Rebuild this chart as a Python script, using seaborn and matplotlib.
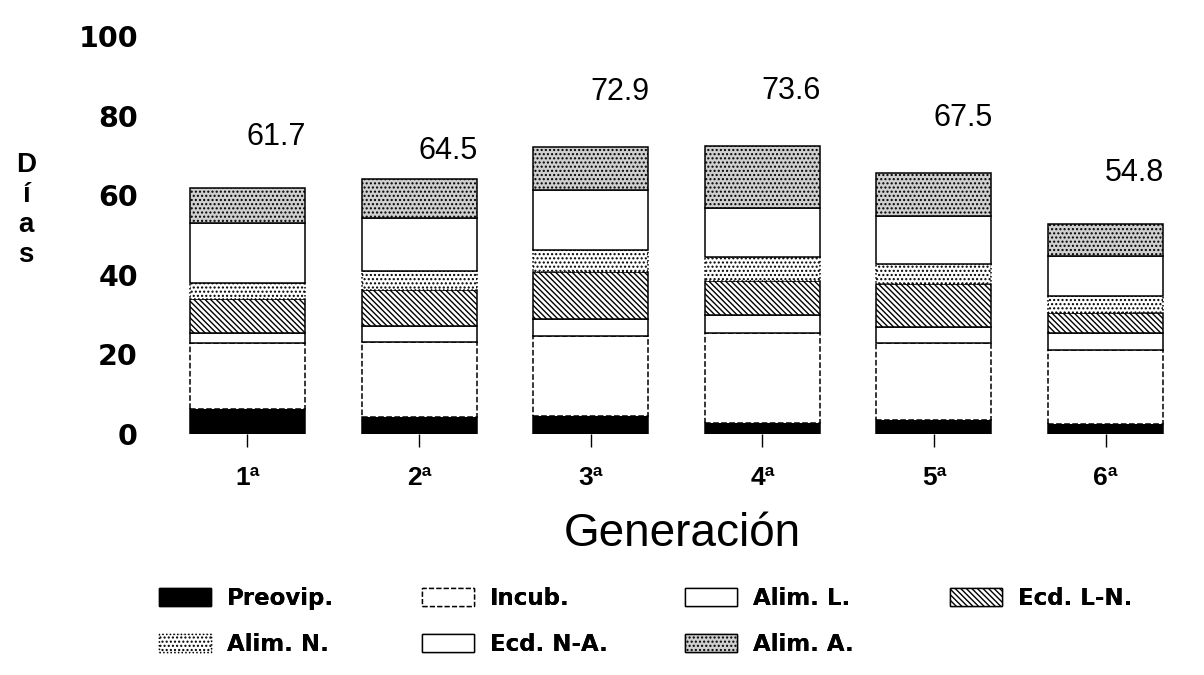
import numpy as np
import pandas as pd
import seaborn as sns
import matplotlib.pyplot as plt
from matplotlib.patches import Patch

# ---- data ----
generaciones = ["1ª", "2ª", "3ª", "4ª", "5ª", "6ª"]
fases = ["Preovip.", "Incub.", "Alim. L.", "Ecd. L-N.", "Alim. N.", "Ecd. N-A.", "Alim. A."]
preovip = [6.2, 4.2, 4.5, 2.8, 3.5, 2.5]
incub = [16.6, 19.0, 20.1, 22.5, 19.4, 18.6]
alim_l = [2.7, 4.0, 4.2, 4.6, 4.1, 4.2]
ecd_ln = [8.3, 9.0, 12.0, 8.5, 10.6, 5.0]
alim_n = [4.2, 4.8, 5.4, 6.1, 5.1, 4.4]
ecd_na = [14.9, 13.2, 15.1, 12.2, 12.1, 10.0]
alim_a = [8.8, 9.8, 10.9, 15.7, 10.9, 8.1]
totales = [61.7, 64.5, 72.9, 73.6, 67.5, 54.8]
y_ticks = [0, 20, 40, 60, 80, 100]

series = [preovip, incub, alim_l, ecd_ln, alim_n, ecd_na, alim_a]

# ---- styles (layout only) ----
styles = [
    dict(facecolor="black", hatch=None, linestyle="-"),
    dict(facecolor="white", hatch=None, linestyle="--"),
    dict(facecolor="white", hatch=None, linestyle="-"),
    dict(facecolor="white", hatch="\\\\\\\\\\\\", linestyle="-"),
    dict(facecolor="white", hatch="....", linestyle=":"),
    dict(facecolor="white", hatch=None, linestyle="-"),
    dict(facecolor="#cfcfcf", hatch="....", linestyle="-"),
]
label_offset_px = [(29, 51), (29, 28), (29, 55), (29, 55), (29, 55), (29, 51)]
# legend columns: (left x of patch in px, item indices)
legend_cols = [(159, [0, 4]), (422, [1, 5]), (685, [2, 6]), (950, [3])]

sns.set_style("white")
plt.rcParams["font.family"] = ["Liberation Sans", "DejaVu Sans"]
plt.rcParams["hatch.linewidth"] = 1.0
for k in ["text.color", "axes.labelcolor", "xtick.color", "ytick.color"]:
    plt.rcParams[k] = "black"

W, H = 1204, 675
y0_px, per_unit = 434, 3.98
ymax = 103
fig = plt.figure(figsize=(W / 100, H / 100), dpi=100)
ax = fig.add_axes([165 / W, (H - y0_px) / H, (1200 - 165) / W, ymax * per_unit / H])

df = pd.DataFrame({"gen": generaciones})
bottom = np.zeros(len(generaciones))
for name, vals, st in zip(fases, series, styles):
    df["v"] = vals
    sns.barplot(data=df, x="gen", y="v", order=generaciones, width=0.67,
                color=st["facecolor"], edgecolor="black", linewidth=1.1,
                hatch=st["hatch"], linestyle=st["linestyle"], bottom=bottom,
                saturation=1, ax=ax, errorbar=None)
    bottom = bottom + np.array(vals)

# totals labels
tops = np.sum(np.array(series), axis=0)
for i, (t, top) in enumerate(zip(totales, tops)):
    dx, dy = label_offset_px[i]
    ax.annotate(f"{t:.1f}", xy=(i, top), xytext=(dx, dy), textcoords="offset pixels",
                ha="center", va="center", fontsize=22)

ax.set_xlim(-0.48, 5.55)
ax.set_ylim(0, ymax)
ax.set_yticks(y_ticks)
ax.set_yticklabels([str(v) for v in y_ticks], fontsize=20.5, fontweight="bold",
                   family="DejaVu Sans")
ax.set_xticks(range(len(generaciones)))
ax.set_xticklabels(generaciones, fontsize=19, fontweight="bold")
ax.tick_params(axis="x", direction="out", length=9, width=1, color="black", pad=14, bottom=True)
ax.tick_params(axis="y", length=0, pad=19.5)
for s in ax.spines.values():
    s.set_visible(False)
ax.set_xlabel("Generación", fontsize=33, labelpad=16)
ax.set_ylabel("")

fig.text(26 / W, 1 - 210 / H, "D\ní\na\ns", ha="center", va="center",
         fontsize=20, fontweight="bold", linespacing=1.2)

# legend, built column by column
handles = [Patch(facecolor=st["facecolor"], edgecolor="black", hatch=st["hatch"],
                 linestyle=st["linestyle"], linewidth=1.0, label=n)
           for n, st in zip(fases, styles)]
for x0, idx in legend_cols:
    leg = fig.legend([handles[i] for i in idx], [fases[i] for i in idx],
                     loc="upper left", bbox_to_anchor=(x0 / W, 1 - 587 / H),
                     frameon=False, borderpad=0, borderaxespad=0,
                     prop={"family": "DejaVu Sans", "weight": "bold", "size": 16.5},
                     handlelength=2.27, handleheight=0.87,
                     handletextpad=0.7, labelspacing=1.0)
    fig.add_artist(leg)

fig.savefig("out.png", dpi=100)
